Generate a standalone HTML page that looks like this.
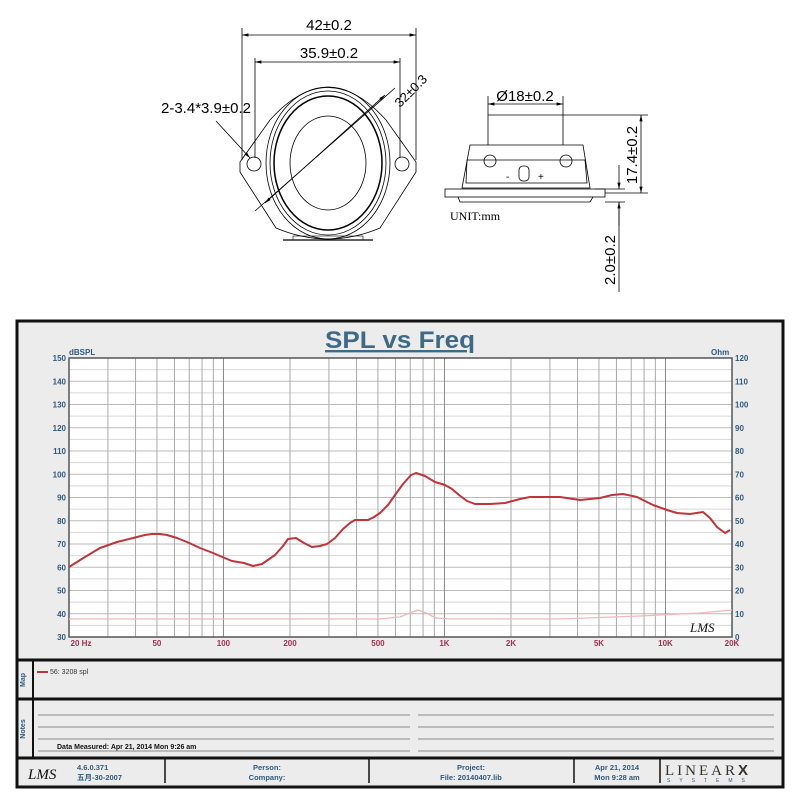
<!DOCTYPE html>
<html><head><meta charset="utf-8"><style>
html,body{margin:0;padding:0;background:#fff;width:800px;height:800px;overflow:hidden}
svg{display:block}
</style></head><body>
<svg width="800" height="800" viewBox="0 0 800 800" xmlns="http://www.w3.org/2000/svg" font-family="Liberation Sans, sans-serif">
<defs>
<marker id="ar" markerWidth="8" markerHeight="6" refX="8" refY="3" orient="auto-start-reverse"><path d="M0,1 L8,3 L0,5z" fill="#000"/></marker>
</defs>
<g stroke="#000" fill="none" stroke-width="0.8">
<line x1="242" y1="28" x2="242" y2="160"/><line x1="416" y1="28" x2="416" y2="160"/>
<line x1="242" y1="35" x2="416" y2="35" marker-start="url(#ar)" marker-end="url(#ar)"/>
<line x1="255" y1="58" x2="255" y2="158"/><line x1="400" y1="58" x2="400" y2="158"/>
<line x1="255" y1="62" x2="400" y2="62" marker-start="url(#ar)" marker-end="url(#ar)"/>
<path d="M240,162 L270,120 Q328,55 386,120 L416,162 L416,172 L380,228 Q328,250 276,228 L240,172 Z"/>
<ellipse cx="328" cy="163" rx="62" ry="76"/>
<ellipse cx="328" cy="163" rx="58" ry="72"/>
<ellipse cx="328" cy="163" rx="54" ry="67" stroke-width="1.5"/>
<ellipse cx="328" cy="163" rx="38" ry="47"/>
<circle cx="254" cy="164" r="7"/><circle cx="402" cy="164" r="7"/>
<line x1="216" y1="121" x2="250" y2="158" marker-end="url(#ar)"/>
<line x1="255" y1="211" x2="395" y2="88"/>
<line x1="265" y1="203" x2="385" y2="95" marker-start="url(#ar)" marker-end="url(#ar)"/>
<line x1="283" y1="240" x2="373" y2="240" stroke-width="1.2"/>
<rect x="293" y="236" width="70" height="4" stroke-width="0.6"/>
</g>
<g font-size="15" fill="#000">
<text x="329" y="30" text-anchor="middle">42±0.2</text>
<text x="329" y="58" text-anchor="middle">35.9±0.2</text>
<text x="161" y="113">2-3.4*3.9±0.2</text>
<text x="400" y="108" transform="rotate(-45 400 108)" font-size="13">32±0.3</text>
</g>
<g stroke="#000" fill="none" stroke-width="0.8">
<line x1="488" y1="96" x2="488" y2="115"/><line x1="563" y1="96" x2="563" y2="115"/>
<line x1="488" y1="104" x2="563" y2="104" marker-start="url(#ar)" marker-end="url(#ar)"/>
<path d="M488,145 L488,115 L563,115 L563,145"/>
<path d="M470,145 L583,145 L590,188 L462,188 Z"/>
<path d="M467,160 L585,160 L587,183 L466,183 Z"/>
<circle cx="490" cy="161" r="6"/><circle cx="566" cy="161" r="6"/>
<rect x="519" y="166" width="10" height="15" rx="4"/>
<rect x="445" y="189" width="160" height="8"/>
<path d="M458,197 L460,202 L590,202 L593,197"/>
<line x1="563" y1="115" x2="648" y2="115"/><line x1="605" y1="193" x2="648" y2="193"/>
<line x1="641" y1="115" x2="641" y2="193" marker-start="url(#ar)" marker-end="url(#ar)"/>
<line x1="595" y1="189" x2="625" y2="189"/><line x1="605" y1="202" x2="625" y2="202"/>
<line x1="619" y1="165" x2="619" y2="189" marker-end="url(#ar)"/>
<line x1="619" y1="226" x2="619" y2="202" marker-end="url(#ar)"/>
<line x1="619" y1="202" x2="619" y2="292"/>
</g>
<g font-size="15" fill="#000">
<text x="525" y="101" text-anchor="middle">Ø18±0.2</text>
<text x="637" y="155" transform="rotate(-90 637 155)" text-anchor="middle">17.4±0.2</text>
<text x="615" y="260" transform="rotate(-90 615 260)" text-anchor="middle">2.0±0.2</text>
<text x="450" y="220" font-family="Liberation Serif, serif" font-size="12">UNIT:mm</text>
<text x="506" y="180" font-size="10">-</text><text x="538" y="180" font-size="10">+</text>
</g>

<rect x="17" y="321" width="766" height="466" fill="#ececec" stroke="#111" stroke-width="3"/>
<line x1="17" y1="660" x2="783" y2="660" stroke="#111" stroke-width="3"/>
<line x1="17" y1="699" x2="783" y2="699" stroke="#111" stroke-width="3"/>
<line x1="17" y1="758" x2="783" y2="758" stroke="#111" stroke-width="3"/>
<line x1="33" y1="660" x2="33" y2="758" stroke="#111" stroke-width="2"/>
<text x="400" y="348" text-anchor="middle" font-size="24" font-weight="bold" fill="#3e6a85" text-decoration="underline" textLength="150" lengthAdjust="spacingAndGlyphs">SPL vs Freq</text>
<rect x="69" y="358" width="663" height="279" fill="#fff"/>
<g id="grid"></g>
<rect x="69" y="358" width="663" height="279" fill="none" stroke="#555" stroke-width="1.5"/>
<g id="labels" font-size="8" font-weight="bold" fill="#2e5a80"></g>
<text x="69" y="355" font-size="8" font-weight="bold" fill="#2e5a80">dBSPL</text>
<text x="711" y="355" font-size="8" font-weight="bold" fill="#2e5a80">Ohm</text>
<polyline fill="none" stroke="#f0b8b8" stroke-width="1.3" points="69,619 380,619 400,617 410,613 418,610 426,613 436,618 450,619 560,619 640,616 700,613 732,610"/>
<polyline fill="none" stroke="#c0343a" stroke-width="2" stroke-linejoin="round" points="69,567 85,557 100,548 117,542 133,538 145,535 152,534 160,534 167,535 177,538 187,542 200,548 213,553 220,556 232,561 244,563 253,566 262,564 275,555 283,546 288,539 296,538 304,543 312,547 320,546 327,544 335,538 343,529 350,523 355,520 368,520 374,517 380,513 388,505 395,495 403,484 411,475 416,473 425,476 435,482 445,485 452,489 459,495 467,501 475,504 490,504 505,503 520,499 530,497 545,497 560,497 580,500 600,498 612,495 623,494 637,497 653,505 667,510 677,513 690,514 703,512 710,518 717,527 725,533 730,530"/>
<text x="690" y="632" font-size="13" font-style="italic" fill="#111" font-family="Liberation Serif, serif">LMS</text>
<text x="25" y="680" transform="rotate(-90 25 680)" text-anchor="middle" font-size="7" font-weight="bold" fill="#2e5a80">Map</text>
<text x="25" y="729" transform="rotate(-90 25 729)" text-anchor="middle" font-size="7" font-weight="bold" fill="#2e5a80">Notes</text>
<line x1="37" y1="672" x2="48" y2="672" stroke="#c0343a" stroke-width="2"/>
<text x="50" y="674" font-size="7" fill="#333">56: 3208   spl</text>
<g stroke="#888" stroke-width="1">
<line x1="38" y1="715" x2="410" y2="715"/><line x1="418" y1="715" x2="774" y2="715"/>
<line x1="38" y1="727" x2="410" y2="727"/><line x1="418" y1="727" x2="774" y2="727"/>
<line x1="38" y1="739" x2="410" y2="739"/><line x1="418" y1="739" x2="774" y2="739"/>
<line x1="38" y1="751" x2="410" y2="751"/><line x1="418" y1="751" x2="774" y2="751"/>
</g>
<text x="57" y="749" font-size="7" font-weight="bold" fill="#111">Data Measured: Apr 21, 2014  Mon  9:26 am</text>
<g stroke="#111" stroke-width="1.5">
<line x1="165" y1="758" x2="165" y2="783"/><line x1="369" y1="758" x2="369" y2="783"/>
<line x1="574" y1="758" x2="574" y2="783"/><line x1="660" y1="758" x2="660" y2="783"/>
</g>
<text x="28" y="779" font-size="15" font-style="italic" fill="#111" font-family="Liberation Serif, serif">LMS</text>
<g font-size="7.5" font-weight="bold" fill="#2e5a80">
<text x="77" y="770">4.6.0.371</text><text x="77" y="780" font-family="Liberation Sans, Noto Sans CJK SC, sans-serif">五月-30-2007</text>
<text x="267" y="770" text-anchor="middle">Person:</text><text x="267" y="780" text-anchor="middle">Company:</text>
<text x="471" y="770" text-anchor="middle">Project:</text><text x="471" y="780" text-anchor="middle">File: 20140407.lib</text>
<text x="617" y="770" text-anchor="middle">Apr 21, 2014</text><text x="617" y="780" text-anchor="middle">Mon  9:28 am</text>
</g>
<text x="665" y="775" font-size="15" fill="#333" letter-spacing="3" font-family="Liberation Serif, serif">LINEAR<tspan font-weight="bold" font-family="Liberation Sans, sans-serif">X</tspan></text>
<text x="667" y="782" font-size="5" fill="#2e5a80" letter-spacing="9">SYSTEMS</text>
<script>
(function(){
var g=document.getElementById('grid'),L=document.getElementById('labels'),ns='http://www.w3.org/2000/svg';
function ln(x1,y1,x2,y2,c,w){var e=document.createElementNS(ns,'line');e.setAttribute('x1',x1);e.setAttribute('y1',y1);e.setAttribute('x2',x2);e.setAttribute('y2',y2);e.setAttribute('stroke',c);e.setAttribute('stroke-width',w);g.appendChild(e);}
function tx(x,y,s,a,c){var e=document.createElementNS(ns,'text');e.setAttribute('x',x);e.setAttribute('y',y);e.setAttribute('text-anchor',a);if(c)e.setAttribute('fill',c);e.textContent=s;L.appendChild(e);}
for(var i=0;i<=24;i++){var y=637-i*279/24;ln(69,y,732,y,i%2?'#d8d8d8':'#bbb',1);}
var fs=[];for(var d=10;d<=10000;d*=10)for(var k=1;k<10;k++){var f=k*d;if(f>=20&&f<=20000)fs.push(f);}
fs.forEach(function(f){var x=69+221*Math.log10(f/20);ln(x,358,x,637,(f==100||f==1000||f==10000)?'#888':'#aaa',1);});
for(var i=0;i<=12;i++){var y=637-i*279/12;tx(66,y+3,30+i*10,'end');tx(735,y+3,i*10,'start');}
var fl=[[20,'20  Hz'],[50,'50'],[100,'100'],[200,'200'],[500,'500'],[1000,'1K'],[2000,'2K'],[5000,'5K'],[10000,'10K'],[20000,'20K']];
fl.forEach(function(p){var x=69+221*Math.log10(p[0]/20);tx(p[0]==20?x+12:x,646,p[1],'middle','#a03050');});
})();
</script>
</svg>
</body></html>
